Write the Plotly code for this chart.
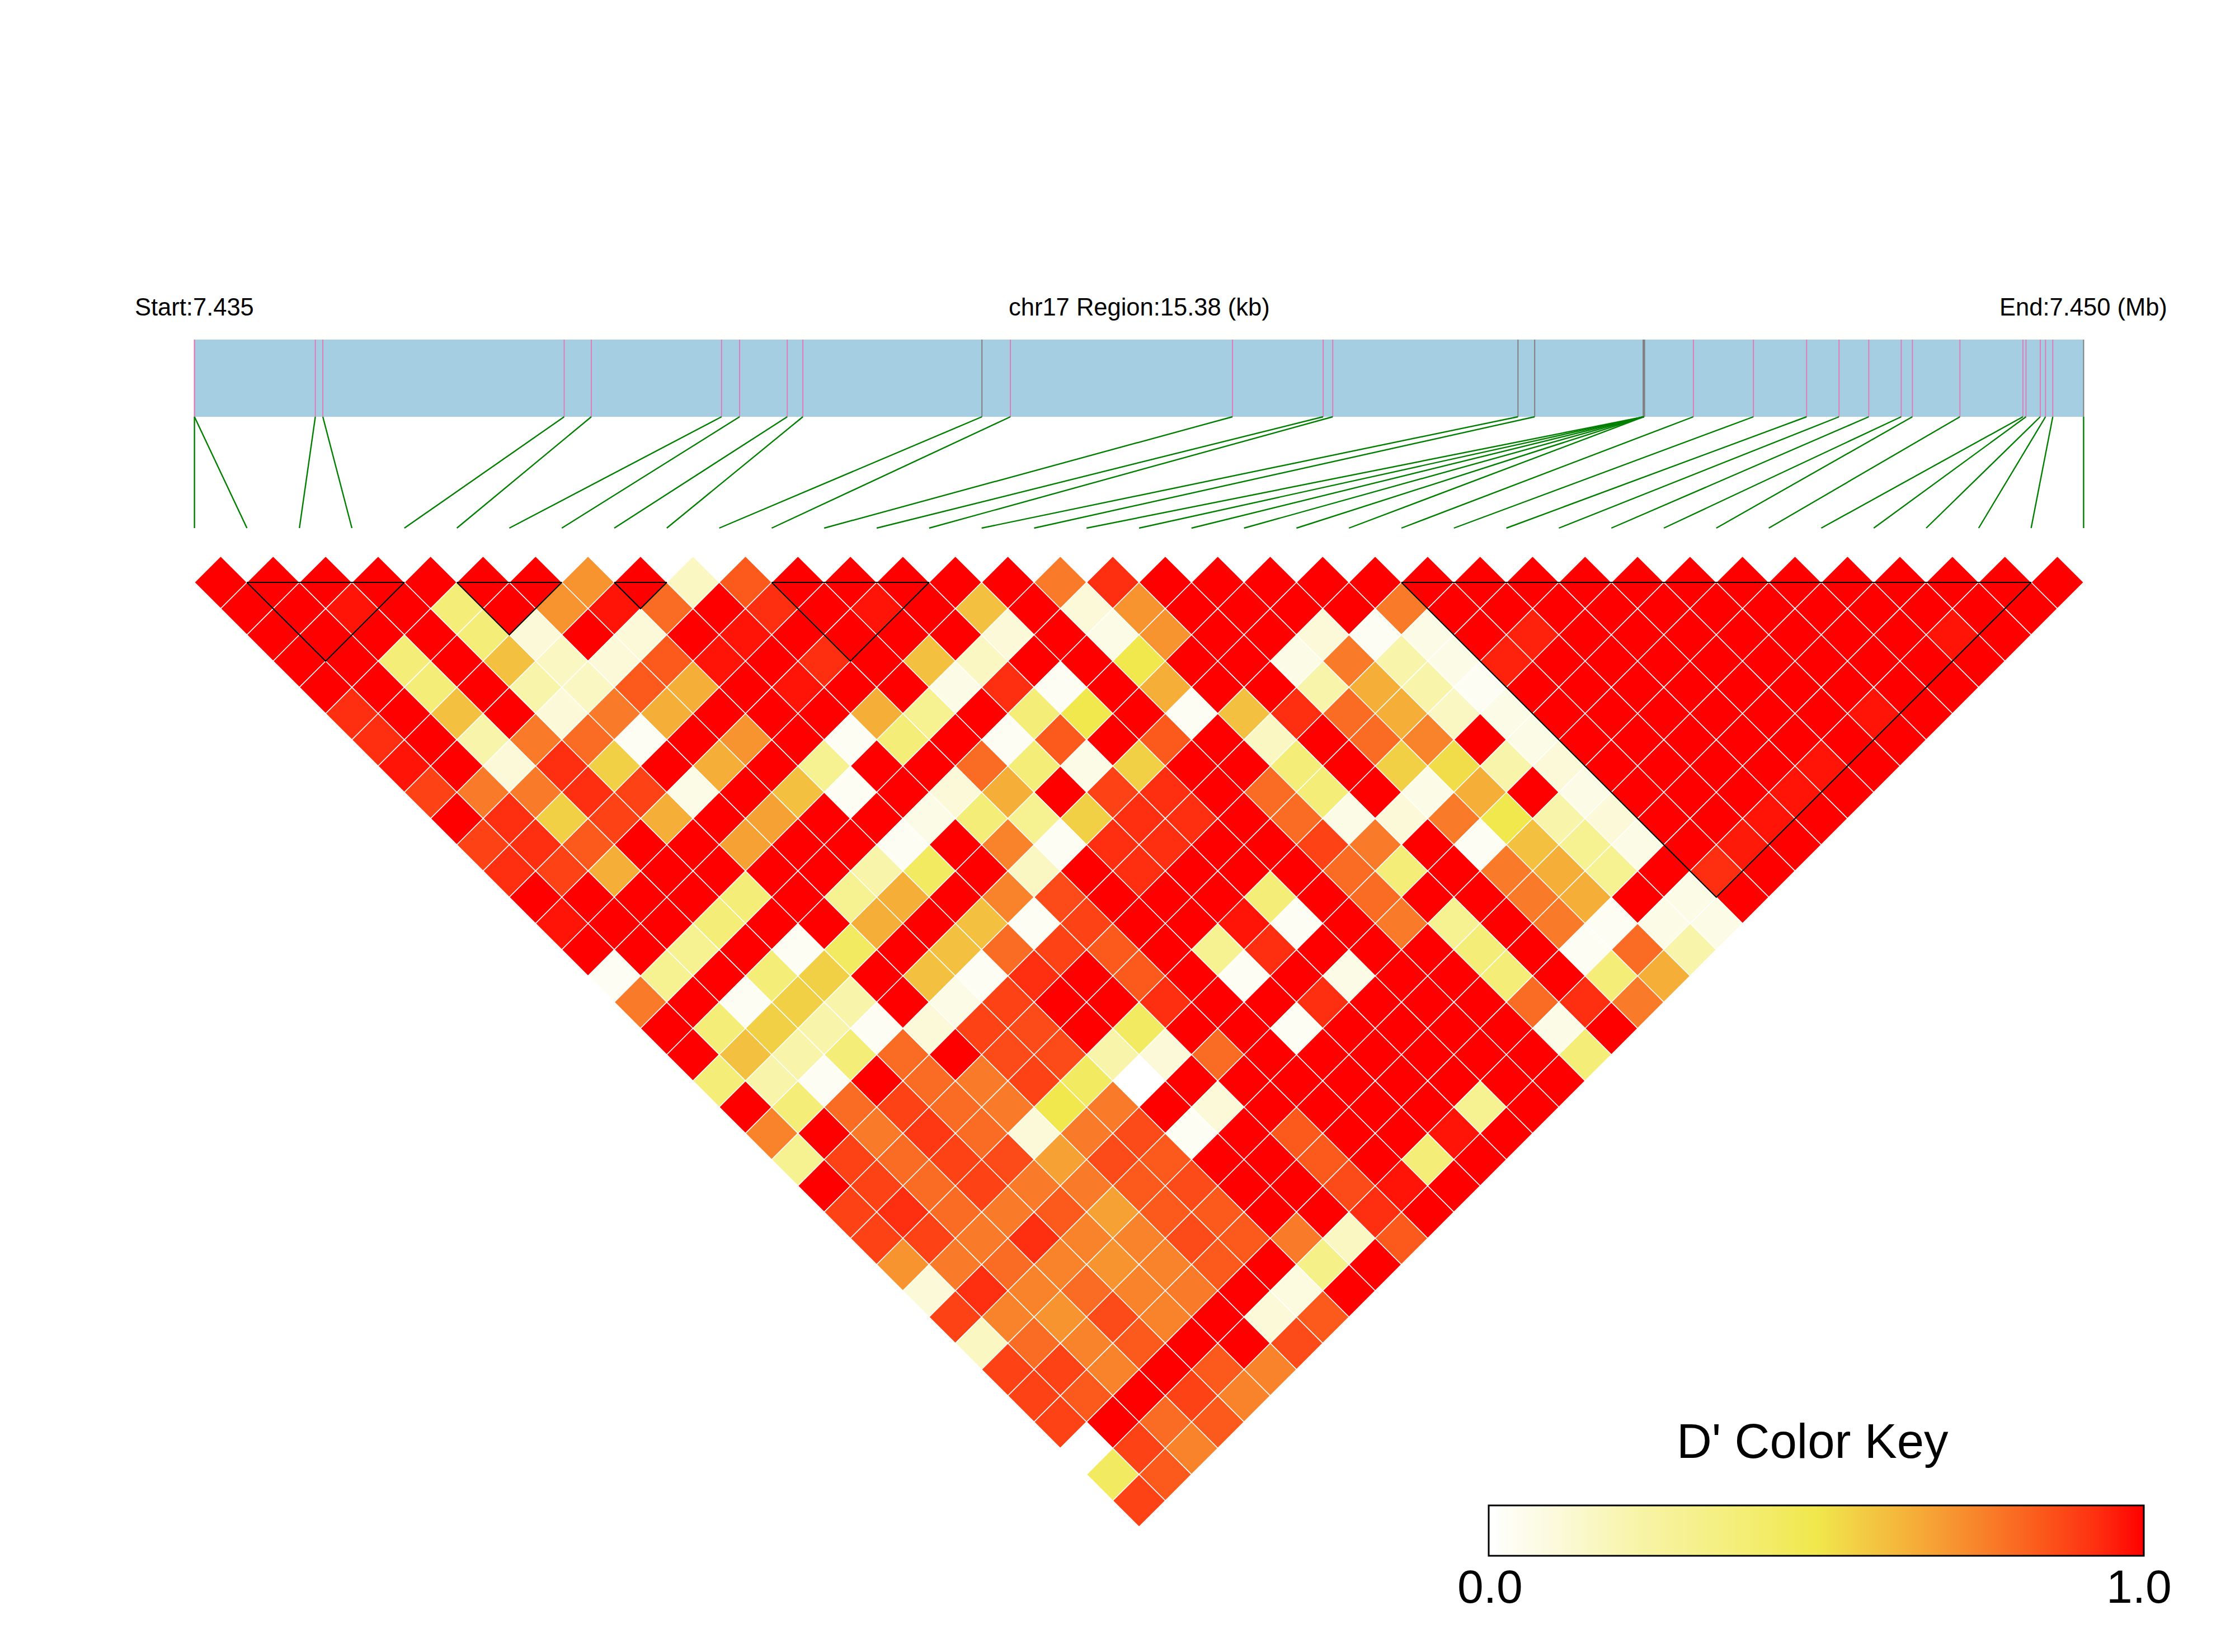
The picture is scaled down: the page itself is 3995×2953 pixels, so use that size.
import plotly.graph_objects as go

# D' values, one list per diagonal distance (row_00 = adjacent SNP pairs)
row_00 = [1,1,1,1,1,1,1,.71,1,.16,.84,1,1,1,1,1,.77,.93,1,1,1,1,1,1,1,1,1,1,1,1,1,1,1,1,1,1]
row_01 = [1,1,.97,1,.38,1,.71,.97,.8,1,.93,1,.97,1,.6,1,.11,.71,1,1,1,1,.77,1,1,1,1,1,1,1,1,1,1,1,1]
row_02 = [1,1,1,1,.38,.11,1,.11,1,.97,1,1,1,1,.11,1,.07,.71,1,1,.11,.03,.07,1,.95,1,1,1,1,1,1,1,.97,1]
row_03 = [1,1,.38,1,.6,.16,.11,.84,.97,1,.93,1,.6,.16,1,1,.5,1,1,.07,.77,.22,.07,.95,1,1,1,1,1,1,1,1,1]
row_04 = [1,1,.38,1,.22,.16,.84,.65,1,.97,1,1,.07,.93,.03,1,.65,1,1,.22,.65,.22,.03,1,1,1,1,1,1,1,1,1]
row_05 = [.93,1,.6,1,.11,.77,.65,1,1,1,.65,.3,1,.38,.5,1,.03,.6,.93,.8,.65,.16,.07,1,1,1,1,1,1,.97,1]
row_06 = [.93,1,.22,.77,.8,.03,1,.71,1,.03,.38,1,.03,.84,1,.84,1,.16,1,.8,.75,1,.07,1,1,1,1,1,1,1]
row_07 = [.97,1,.11,.93,.56,1,.65,1,.3,1,1,.8,.38,.07,.56,1,1,.38,1,.56,.53,.22,.11,1,1,1,1,.97,1]
row_08 = [.89,.77,.77,.93,.89,.07,1,.6,.03,1,.11,.65,1,.89,.93,1,.8,.38,1,.07,.65,1,.07,1,1,1,.97,1]
row_09 = [1,.93,.56,.89,.65,1,.68,1,1,.07,.38,.3,.56,.93,.93,1,.8,.07,.11,.77,.5,.22,.11,1,1,.97,1]
row_10 = [.89,.93,.84,1,1,.68,1,1,.03,1,.75,.03,.93,.93,1,1,.89,.77,1,.03,.6,.3,.07,1,.96,1]
row_11 = [.93,.89,.65,1,1,1,1,.22,.44,1,.16,1,.93,1,1,1,.8,.38,1,.77,.65,.3,1,.93,1]
row_12 = [1,1,1,1,.38,1,.3,.65,1,.75,.87,1,1,1,.38,1,.8,1,1,.77,.65,1,.07,1]
row_13 = [.97,1,1,.38,1,1,.65,1,.6,.03,.89,1,1,.97,.03,1,.77,.3,1,.77,.03,.07,.07]
row_14 = [1,1,.3,1,.03,.44,1,.6,.8,.89,.84,1,.3,.93,1,1,1,.38,1,.03,.8,.22]
row_15 = [.03,.3,1,.38,.56,1,.6,.03,.93,1,.84,1,.03,1,.07,1,1,.38,1,.38,.65]
row_16 = [.77,1,.03,.56,.22,1,.07,.89,1,1,.93,1,1,.93,1,1,1,.8,.93,.77]
row_17 = [1,.38,.56,.22,.03,.11,.89,.87,1,.44,1,1,.03,1,1,1,1,.07,1]
row_18 = [1,.6,.22,.38,.8,1,.87,.87,.22,.11,.8,1,1,1,1,1,1,.38]
row_19 = [.38,.22,.03,1,.8,.77,.89,.44,0,1,1,1,1,1,1,1,1]
row_20 = [1,.38,.8,.89,.8,.77,.5,.77,1,.11,1,1,1,1,.3,1]
row_21 = [.75,1,.77,.91,.8,.11,.77,.87,.03,1,.84,1,1,.97,1]
row_22 = [.3,.89,.8,.89,.87,.68,.87,.84,1,1,.84,1,.38,1]
row_23 = [1,.89,.8,.89,.77,.77,.84,.87,1,1,.87,.97,1]
row_24 = [.89,.93,.8,.77,.84,.68,.84,.84,1,1,.93,1]
row_25 = [.89,.89,.77,.93,.75,.75,.87,.84,.77,.16,.84]
row_26 = [.71,.77,.8,.75,.71,.75,.84,1,.33,1]
row_27 = [.11,.93,.75,.8,.75,.77,1,.09,1]
row_28 = [.89,.75,.71,.87,.75,1,.11,.84]
row_29 = [.16,.8,.75,.84,1,1,.87]
row_30 = [.89,.89,.75,1,.84,.75]
row_31 = [.89,.84,1,.89,.75]
row_32 = [.89,1,.8,.84]
row_33 = [0,.89,.75]
row_34 = [.44,.84]
row_35 = [.89]
rows = [row_00,row_01,row_02,row_03,row_04,row_05,row_06,row_07,row_08,row_09,row_10,row_11,
        row_12,row_13,row_14,row_15,row_16,row_17,row_18,row_19,row_20,row_21,row_22,row_23,
        row_24,row_25,row_26,row_27,row_28,row_29,row_30,row_31,row_32,row_33,row_34,row_35]

# SNP positions, kb from region start
snp_kb = [0,0,.984,1.045,3.010,3.231,4.291,4.438,4.826,4.953,6.411,6.643,8.451,9.189,9.267,
          10.775,10.911,11.8,11.8,11.8,11.8,11.8,11.8,12.203,12.692,13.125,13.389,13.631,
          13.895,13.986,14.373,14.886,14.911,15.027,15.070,15.129,15.38]
region_kb = 15.38
gray_snps = [10, 15, 16, 36]
thick_snps = [17, 18, 19, 20, 21, 22]
blocks = [(1, 4), (5, 7), (8, 9), (11, 14), (23, 35)]

# axis layout: x in SNP index units, y in LD-row units
W, H = 3995, 2953
STEP = 93.8
X0 = 347.6
ROW = 46.9
Y0 = 1041.0
def yu(px):
    return (px - Y0) / ROW
def xu(px):
    return (px - X0) / STEP

n = len(snp_kb)
kb_to_u = (n - 1) / region_kb
TRACK_T, TRACK_B, LINK_B = yu(607), yu(745), yu(944)

COLORSCALE = [[0, "#FFFFFF"], [.11, "#FBF9D8"], [.22, "#F8F4AA"], [.38, "#F4EE78"], [.5, "#F0E84C"],
              [.56, "#F2D045"], [.65, "#F5AE38"], [.77, "#F97A28"], [.84, "#FB5A1C"],
              [.93, "#FE2E10"], [1, "#FF0000"]]

xs, ys, vs = [], [], []
for k, r in enumerate(rows):
    assert len(r) == 36 - k, k
    for c, v in enumerate(r):
        xs.append(c + (k + 1) / 2)
        ys.append(k)
        vs.append(v)

fig = go.Figure()

def segs(idx, y0, y1, bottoms=False):
    X, Y = [], []
    for i in idx:
        u = snp_kb[i] * kb_to_u
        X += [u, i if bottoms else u, None]
        Y += [y0, y1, None]
    return X, Y

# gene track rectangle
fig.add_shape(type="rect", x0=0, x1=region_kb * kb_to_u, y0=TRACK_T, y1=TRACK_B,
              fillcolor="#A6CEE3", line=dict(width=0), layer="below")

pink = [i for i in range(n) if i not in gray_snps and i not in thick_snps]
X, Y = segs(pink, TRACK_T, TRACK_B)
fig.add_trace(go.Scatter(x=X, y=Y, mode="lines", line=dict(color="#E377B5", width=1.8), hoverinfo="skip"))
X, Y = segs(gray_snps, TRACK_T, TRACK_B)
fig.add_trace(go.Scatter(x=X, y=Y, mode="lines", line=dict(color="#808080", width=2), hoverinfo="skip"))
X, Y = segs(thick_snps, TRACK_T, TRACK_B)
fig.add_trace(go.Scatter(x=X, y=Y, mode="lines", line=dict(color="#808080", width=3.5), hoverinfo="skip"))
X, Y = segs(range(n), TRACK_B, LINK_B, bottoms=True)
fig.add_trace(go.Scatter(x=X, y=Y, mode="lines", line=dict(color="#007F00", width=2.4), hoverinfo="skip"))

# LD diamonds
fig.add_trace(go.Scatter(
    x=xs, y=ys, mode="markers",
    marker=dict(symbol="diamond", size=2 * ROW / 1.3, color=vs, cmin=0, cmax=1,
                colorscale=COLORSCALE, line=dict(color="#FFFFFF", width=1.5), showscale=True,
                colorbar=dict(orientation="h", x=2661 / W, xanchor="left", y=1 - 2691 / H, yanchor="top",
                              lenmode="pixels", len=1171, thicknessmode="pixels", thickness=90,
                              xpad=0, ypad=0, outlinecolor="#000000", outlinewidth=3,
                              tickvals=[0, 1], ticks="", ticklen=0, showticklabels=False)),
    hovertemplate="%{marker.color}<extra></extra>"))

# haplotype block outlines
BX, BY = [], []
for a, b in blocks:
    BX += [a, b, (a + b) / 2, a, None]
    BY += [0, 0, b - a, 0, None]
fig.add_trace(go.Scatter(x=BX, y=BY, mode="lines", line=dict(color="#000000", width=2.2), hoverinfo="skip"))

TEXT_Y = yu(549)
for t, u in [("Start:7.435", 0), ("chr17 Region:15.38 (kb)", (n - 1) / 2), ("End:7.450 (Mb)", n - 1)]:
    fig.add_annotation(x=u, y=TEXT_Y, text=t, showarrow=False, xanchor="center", yanchor="middle",
                       font=dict(family="Liberation Sans", size=43.5, color="#000000"))
fig.add_annotation(x=xu(3240), y=yu(2575), text="D' Color Key", showarrow=False, xanchor="center", yanchor="middle",
                   font=dict(family="Liberation Sans", size=87, color="#000000"))
for t, px in [("0.0", 2663), ("1.0", 3823)]:
    fig.add_annotation(x=xu(px), y=yu(2836), text=t, showarrow=False, xanchor="center", yanchor="middle",
                       font=dict(family="Liberation Sans", size=84, color="#000000"))

fig.update_layout(width=W, height=H, showlegend=False, paper_bgcolor="white", plot_bgcolor="white",
                  margin=dict(l=0, r=0, t=0, b=0, pad=0, autoexpand=False),
                  xaxis=dict(range=[xu(0), xu(W)], visible=False, fixedrange=True),
                  yaxis=dict(range=[yu(H), yu(0)], visible=False, fixedrange=True))
fig.write_html("out.html", config=dict(displayModeBar=False),
               post_script="document.body.style.margin='0';document.body.style.overflow='hidden';")
